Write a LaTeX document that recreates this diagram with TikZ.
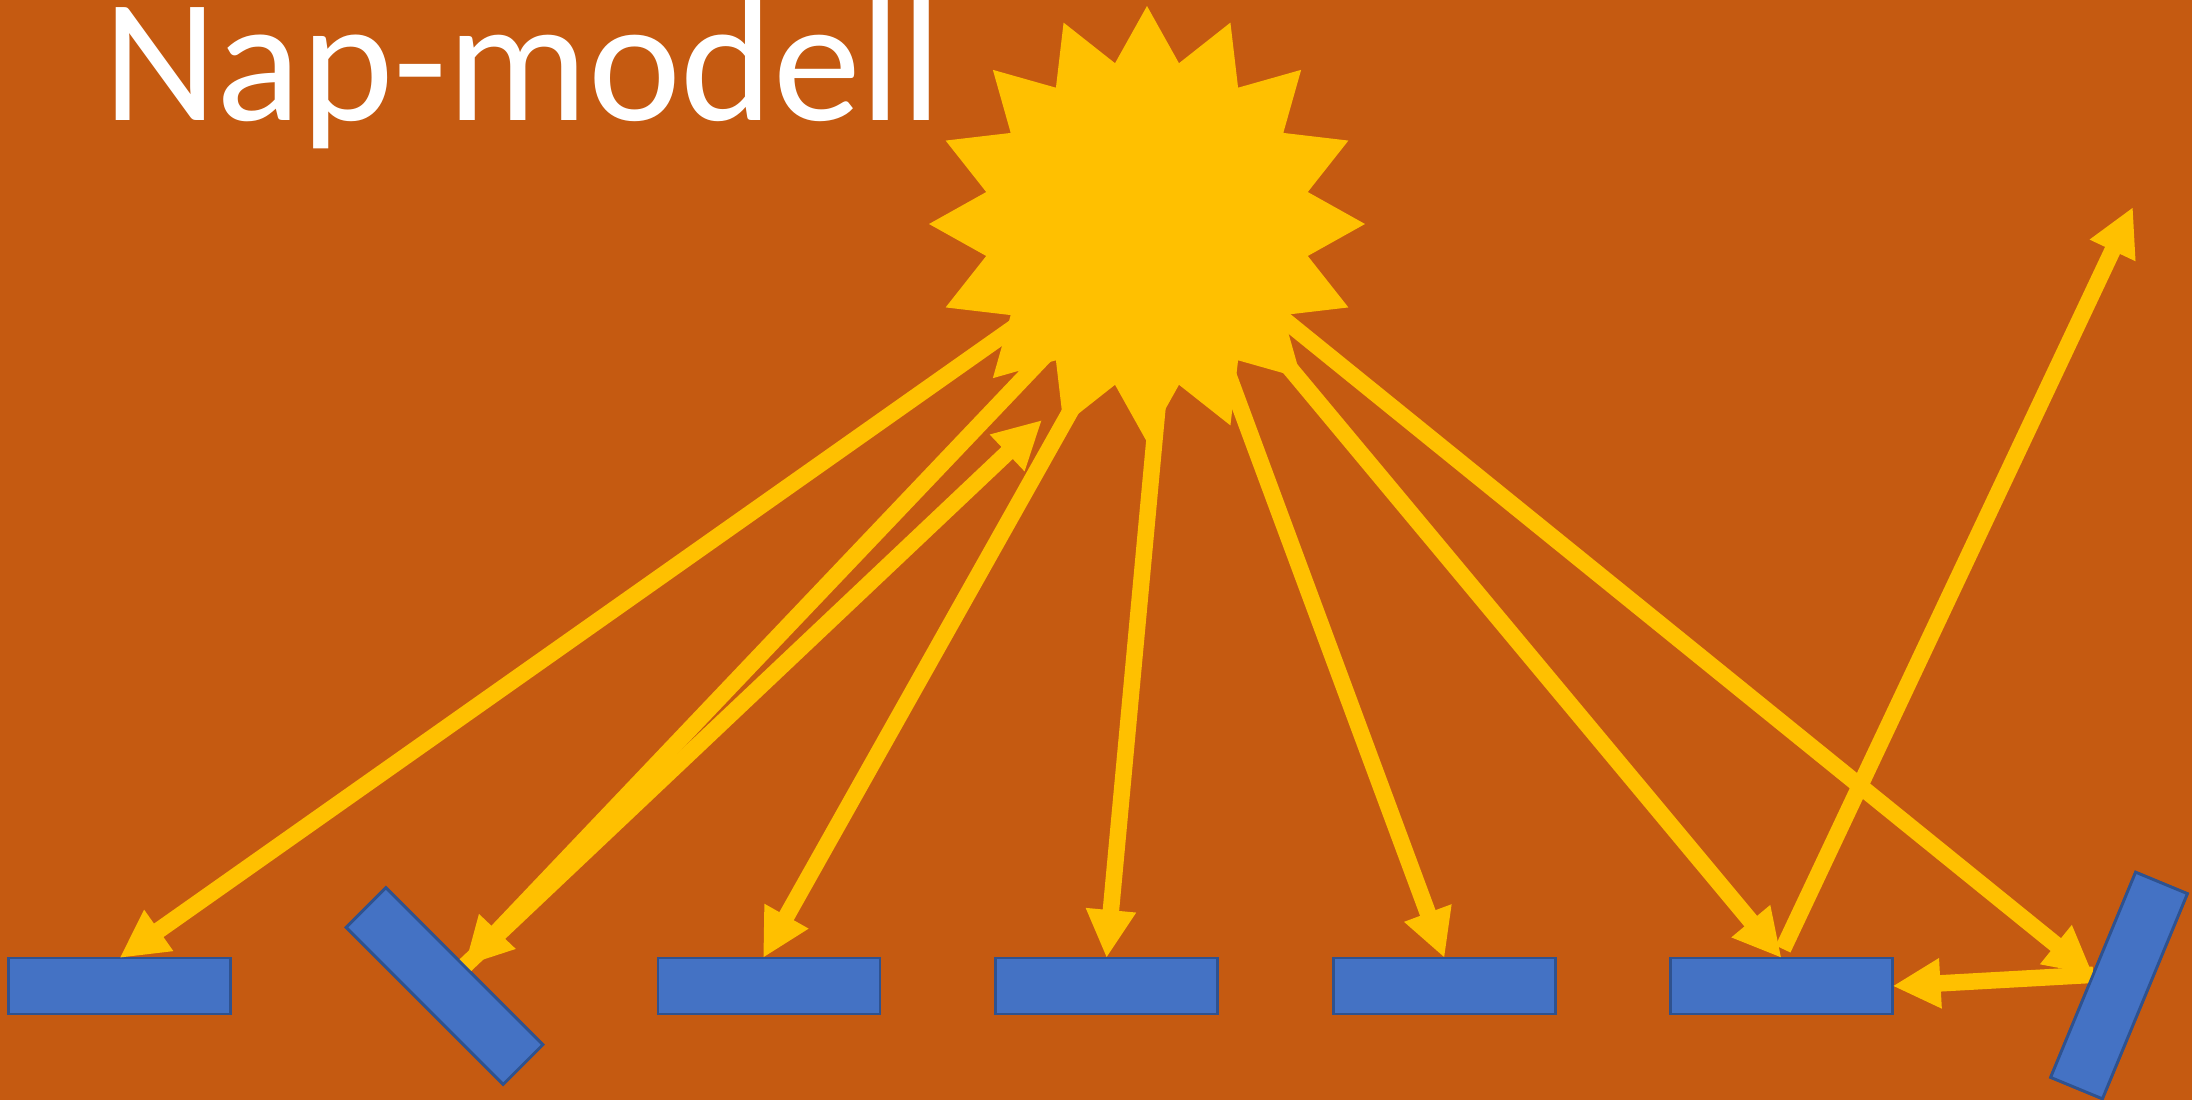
\documentclass[tikz,border=0pt]{standalone}
\usepackage{fontspec}
\setmainfont{Carlito}
\usetikzlibrary{arrows.meta,shapes.geometric,calc}
\definecolor{bgc}{HTML}{C55A11}
\definecolor{sunc}{HTML}{FFC000}
\definecolor{panelc}{HTML}{4472C4}
\definecolor{edgec}{HTML}{2F528F}
\tikzset{
  panel/.style={rectangle,draw=edgec,line width=2.8pt,fill=panelc,minimum width=222pt,minimum height=56pt,inner sep=0pt,outer sep=0pt},
  sunshape/.style={star,star points=16,star point ratio=1.33,minimum size=436pt,inner sep=0pt,outer sep=0pt,fill=sunc,draw=none},
  ray/.style={draw=sunc,line width=16.5pt,-{Triangle[length=48pt,width=47pt,fill=sunc]}},
  title/.style={text=white,font=\fontsize{176pt}{176pt}\selectfont,anchor=base west,inner sep=0pt},
}
\begin{document}
\begin{tikzpicture}[x=1pt,y=-1pt]
\useasboundingbox (0,0) rectangle (2192,1100);
\clip (0,0) rectangle (2192,1100);
\fill[bgc] (0,0) rectangle (2192,1100);
\node[title] (head) at (103,120) {Nap-modell};
% ray origins inside the sun
\coordinate (s1) at (1060,295);
\coordinate (s2) at (1075,324);
\coordinate (s3) at (1102,355);
\coordinate (s4) at (1160,380);
\coordinate (s5) at (1219,350);
\coordinate (s6) at (1233,300);
\coordinate (s7) at (1250,292);
\node[sunshape] (sun) at (1147,224) {};
\node[panel] (p1) at (119.5,986) {};
\node[panel,rotate=-45] (p2) at (444.5,986) {};
\node[panel] (p3) at (769,986) {};
\node[panel] (p4) at (1106.5,986) {};
\node[panel] (p5) at (1444.5,986) {};
\node[panel] (p6) at (1781.5,986) {};
\node[panel,rotate=67.5] (p7) at (2119,985.5) {};
\coordinate (u1) at (2133,207);
\coordinate (u2) at (1042,420);
\coordinate (p6up) at (1783,949);
\coordinate (t3) at (763,958);
\draw[ray] (s1) -- (p1.north);
\draw[ray] (s2) -- (p2.north);
\draw[ray] (p2.north) -- (u2);
\draw[ray] (s3) -- (t3);
\draw[ray] (s4) -- (p4.north);
\draw[ray] (s5) -- (p5.north);
\draw[ray] (s6) -- (p6.north);
\draw[ray] (s7) -- (p7.north);
\draw[ray] (p7.north) -- (p6.east);
\draw[ray] (p6up) -- (u1);
\node[panel,rotate=-45] at (p2) {};
\node[panel,rotate=67.5] at (p7) {};
\end{tikzpicture}
\end{document}
